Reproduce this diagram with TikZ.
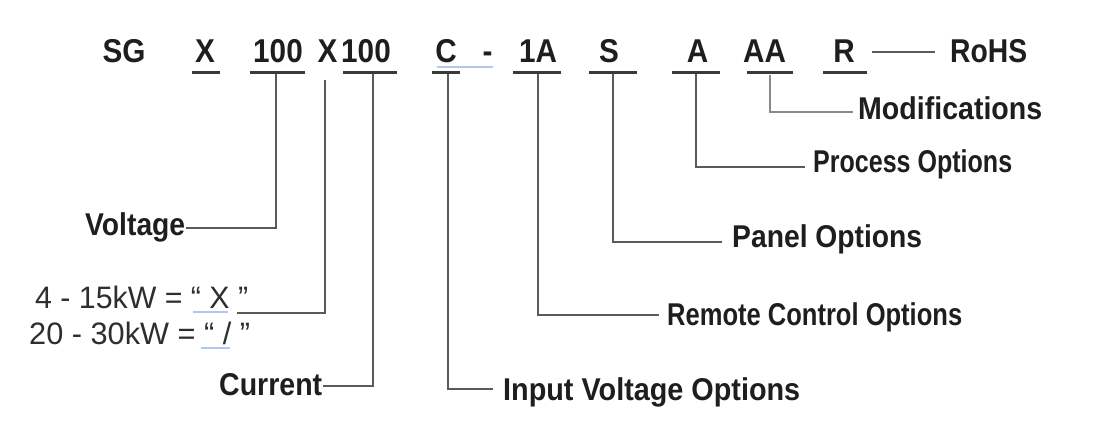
\documentclass[tikz,border=0pt]{standalone}
\usepackage{fontspec}
\usepackage{graphicx}
\setmainfont{Liberation Sans}
\newfontfamily\condfont[FakeStretch=0.9]{Liberation Sans}
\usetikzlibrary{calc}
\newcommand\fitto[2]{\resizebox{#1pt}{\height}{#2}}
\definecolor{txt}{HTML}{1E1E1E}
\definecolor{txtr}{HTML}{2E2E2E}
\definecolor{ulc}{HTML}{3A3A3A}
\definecolor{lnc}{HTML}{5A5A5A}
\definecolor{lnl}{HTML}{8A8A8A}
\definecolor{bluec}{HTML}{AFC8F2}
\tikzset{
  code/.style={font=\condfont\bfseries\fontsize{33}{36}\selectfont, text=txt, anchor=base, inner sep=0pt},
  lbl/.style={font=\condfont\bfseries\fontsize{31.5}{34}\selectfont, text=txt, anchor=base west, inner sep=0pt},
  kw/.style={font=\fontsize{31}{34}\selectfont, text=txtr, anchor=base west, inner sep=0pt},
  uline/.style={draw=ulc, line width=3pt},
  conn/.style={draw=lnc, line width=2pt},
  connl/.style={draw=lnl, line width=1.6pt},
  bline/.style={draw=bluec, line width=2.5pt},
}
\begin{document}
\begin{tikzpicture}[x=1pt,y=-1pt]
\useasboundingbox[fill=white] (0,0) rectangle (1116,428);

% code row
\node[code] (sg) at (124,63) {SG};
\node[code] (x1) at (205,63) {X};
\node[code] (volt100) at (278,63) {100};
\node[code] (xm) at (327.5,63) {X};
\node[code] (cur100) at (366,63) {100};
\node[code] (ic) at (446,63) {C};
\node[code] (dash) at (487.5,63) {-};
\node[code] (rc) at (538,63) {1A};
\node[code] (pn) at (609,63) {S};
\node[code] (pr) at (697.5,63) {A};
\node[code] (md) at (764.5,63) {AA};
\node[code] (rh) at (844,63) {R};
\node[code,anchor=base west] (rohs) at (950,63) {\fitto{77}{RoHS}};

% underlines
\draw[bline] (437,67) -- (493,67);
\draw[uline] (192,72.5) -- (220,72.5);
\draw[uline] (250,72.5) -- (305,72.5);
\draw[uline] (343,72.5) -- (397,72.5);
\draw[uline] (432,72.5) -- (460,72.5);
\draw[uline] (513,72.5) -- (561,72.5);
\draw[uline] (589,72.5) -- (637,72.5);
\draw[uline] (672,72.5) -- (720,72.5);
\draw[uline] (747,73) -- (793,73);
\draw[uline] (823,73) -- (867,73);

% connector start points
\coordinate (vU) at (276,74);
\coordinate (xU) at (325,80);
\coordinate (cU) at (373,74);
\coordinate (iU) at (448,74);
\coordinate (rU) at (538,74);
\coordinate (pU) at (613,74);
\coordinate (prU) at (696,74);
\coordinate (mU) at (770,74.5);

% labels
\node[lbl] (voltage) at (85,235) {\fitto{100}{Voltage}};
\node[lbl] (current) at (219,395) {\fitto{103}{Current}};
\node[lbl] (input) at (503,400) {\fitto{297}{Input Voltage Options}};
\node[lbl] (remote) at (667,325) {\fitto{295}{Remote Control Options}};
\node[lbl] (panel) at (732,247) {\fitto{190}{Panel Options}};
\node[lbl] (process) at (813,172) {\fitto{199}{Process Options}};
\node[lbl] (modif) at (858,119) {\fitto{184}{Modifications}};

\node[kw] (kw1) at (35,308) {\fitto{213}{4 - 15kW = “ X ”}};
\node[kw] (kw2) at (29,344) {\fitto{221}{20 - 30kW = “ / ”}};
\draw[bline] (193,312) -- (228,312);
\draw[bline] (201,348) -- (230,348);

% connector end points
\coordinate (voltE) at (186,228);
\coordinate (kwE) at (237,313);
\coordinate (curE) at (323,386);
\coordinate (inE) at (493,389);
\coordinate (remE) at (659,315);
\coordinate (panE) at (722,242);
\coordinate (proE) at (805,167);
\coordinate (modE) at (853,112);
\coordinate (rohsS) at (872,52);
\coordinate (rohsE) at (935,52);

% connectors
\draw[conn] (vU) |- (voltE);
\draw[conn] (xU) |- (kwE);
\draw[conn] (cU) |- (curE);
\draw[conn] (iU) |- (inE);
\draw[conn] (rU) |- (remE);
\draw[conn] (pU) |- (panE);
\draw[conn] (prU) |- (proE);
\draw[connl] (mU) |- (modE);
\draw[conn] (rohsS) -- (rohsE);
\end{tikzpicture}
\end{document}
